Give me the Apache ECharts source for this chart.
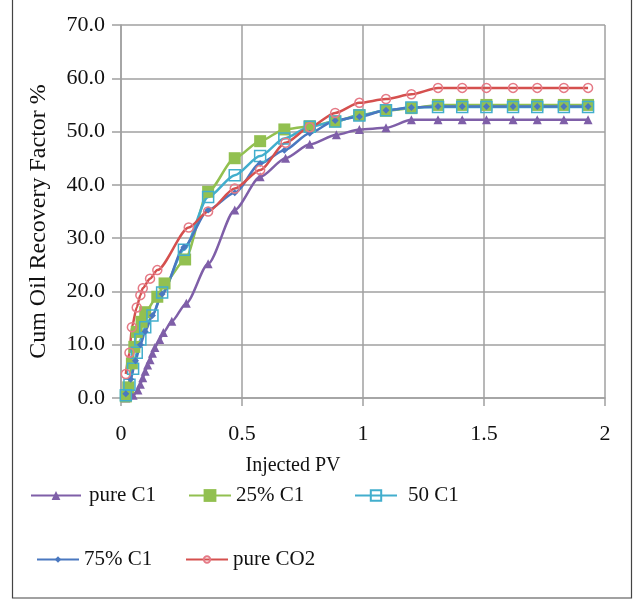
<!DOCTYPE html>
<html>
<head>
<meta charset="utf-8">
<script src="https://cdn.jsdelivr.net/npm/echarts@6/dist/echarts.min.js"></script>
<style>
html,body{margin:0;padding:0;background:#fff;}
#chart{width:643px;height:599px;}
</style>
</head>
<body>
<div id="chart"></div>
<script>
// ---- data (Injected PV vs Cum Oil Recovery Factor %) ----
var seriesNames = ['pure C1', '25% C1', '50 C1', '75% C1', 'pure CO2'];
var xTicks = [0, 0.5, 1, 1.5, 2];
var yTicks = [0, 10, 20, 30, 40, 50, 60, 70];

var pvPureC1  = [0.02,0.05,0.07,0.08,0.09,0.10,0.11,0.12,0.13,0.14,0.16,0.175,0.21,0.27,0.36,0.47,0.575,0.68,0.78,0.89,0.985,1.095,1.2,1.31,1.41,1.51,1.62,1.72,1.83,1.93];
var recPureC1 = [0,0.5,1.5,2.6,3.8,5,6.2,7.2,8.4,9.5,11,12.3,14.4,17.8,25.2,35.3,41.5,45,47.6,49.4,50.4,50.7,52.2,52.2,52.2,52.2,52.2,52.2,52.2,52.2];

var pv25C1  = [0.02,0.03,0.045,0.055,0.065,0.085,0.10,0.15,0.18,0.265,0.36,0.47,0.575,0.675,0.78,0.885,0.985,1.095,1.2,1.31,1.41,1.51,1.62,1.72,1.83,1.93];
var rec25C1 = [0.3,2,6.5,9.6,12.4,14.3,16.1,19,21.5,26,38.7,45,48.2,50.4,51,51.9,53.1,53.9,54.4,55,55,55,55,55,55,55];

var pv50C1  = [0.02,0.035,0.05,0.065,0.08,0.10,0.13,0.17,0.26,0.36,0.47,0.575,0.675,0.78,0.885,0.985,1.095,1.2,1.31,1.41,1.51,1.62,1.72,1.83,1.93];
var rec50C1 = [0.5,2.5,5.5,8.5,11,13.3,15.5,19.8,27.8,37.7,41.8,45.4,48.7,50.9,51.9,53,54,54.5,54.6,54.6,54.6,54.6,54.6,54.6,54.6];

var pv75C1  = [0.02,0.04,0.06,0.08,0.10,0.13,0.17,0.26,0.36,0.47,0.575,0.675,0.78,0.885,0.985,1.095,1.2,1.31,1.41,1.51,1.62,1.72,1.83,1.93];
var rec75C1 = [0.8,3.5,7,10,12.5,15.5,19.5,28.3,35.3,38.5,44,46.5,49.7,52.1,52.8,54,54.5,54.7,54.7,54.7,54.7,54.7,54.7,54.7];

var pvCO2  = [0.02,0.035,0.045,0.065,0.08,0.09,0.12,0.15,0.28,0.36,0.47,0.575,0.68,0.78,0.885,0.985,1.095,1.2,1.31,1.41,1.51,1.62,1.72,1.83,1.93];
var recCO2 = [4.5,8.5,13.3,17,19.3,20.6,22.4,24,32,35,39.3,42.8,47.9,50.8,53.5,55.4,56.1,57,58.2,58.2,58.2,58.2,58.2,58.2,58.2];

function pairs(xs, ys){ return xs.map(function(x,i){ return [x, ys[i]]; }); }

var FONT = 'Liberation Serif';
var chart = echarts.init(document.getElementById('chart'), null, {renderer:'canvas'});

function mk(name, xs, ys, color, symbol, size, hollow, borderColor){
  return {
    name: name, type: 'line', data: pairs(xs, ys),
    smooth: 0.25, smoothMonotone: 'x',
    symbol: symbol, symbolSize: size, showSymbol: true,
    lineStyle: {color: color, width: 2.5},
    itemStyle: hollow ? {color: 'rgba(255,255,255,0)', borderColor: borderColor || color, borderWidth: 1.5}
                      : {color: color, borderColor: color, borderWidth: 0},
    emphasis: {disabled: true},
    animation: false
  };
}

var legendText = {fontFamily: FONT, fontSize: 21, color: '#111'};
function lg(name, left, top, ih, extra){
  return Object.assign({
    data: [name], left: left, top: top,
    itemWidth: 42, itemHeight: ih, itemGap: 4,
    textStyle: legendText, selectedMode: false
  }, extra || {});
}

var option = {
  backgroundColor: '#fff',
  animation: false,
  grid: {left: 121, right: 38, top: 25, bottom: 201, containLabel: false},
  xAxis: {
    type: 'value', min: 0, max: 2, interval: 0.5,
    name: 'Injected PV', nameLocation: 'middle', nameGap: 58,
    nameTextStyle: {fontFamily: FONT, fontSize: 20, color: '#111', padding: [0, 140, 0, 0]},
    axisLine: {show: true, lineStyle: {color: '#a0a0a0', width: 1.5}},
    axisTick: {show: true, length: 8, lineStyle: {color: '#a0a0a0', width: 1.5}},
    axisLabel: {fontFamily: FONT, fontSize: 22, color: '#111', margin: 25,
      formatter: function(v){ return String(v); }},
    splitLine: {show: true, lineStyle: {color: '#a0a0a0', width: 1.5}}
  },
  yAxis: {
    type: 'value', min: 0, max: 70, interval: 10,
    name: 'Cum Oil Recovery Factor %', nameLocation: 'middle', nameGap: 70,
    nameTextStyle: {fontFamily: FONT, fontSize: 24, color: '#111', padding: [0, 20, 0, 0]},
    axisLine: {show: true, lineStyle: {color: '#a0a0a0', width: 1.5}},
    axisTick: {show: true, length: 9, lineStyle: {color: '#a0a0a0', width: 1.5}},
    axisLabel: {fontFamily: FONT, fontSize: 22, color: '#111', margin: 16,
      formatter: function(v){ return v.toFixed(1); }},
    splitLine: {show: true, lineStyle: {color: '#a0a0a0', width: 1.5}}
  },
  legend: [
    lg(seriesNames[0], 25, 480, 11, {itemWidth: 50, textStyle: Object.assign({}, legendText, {padding: [0,0,0,3]})}),
    lg(seriesNames[1], 183, 480, 16),
    lg(seriesNames[2], 349, 480, 13, {textStyle: Object.assign({}, legendText, {padding: [0,0,0,6]})}),
    lg(seriesNames[3], 31, 544, 8),
    lg(seriesNames[4], 180, 544, 8, {itemGap: 0})
  ],
  graphic: [{
    type: 'rect', silent: true, z: -1,
    shape: {x: 12.5, y: -2, width: 619, height: 600},
    style: {fill: 'none', stroke: '#444', lineWidth: 1.2}
  }],
  series: [
    mk(seriesNames[0], pvPureC1, recPureC1, '#7f5fa8', 'triangle', 9, false),
    mk(seriesNames[1], pv25C1, rec25C1, '#92c050', 'rect', 12, false),
    mk(seriesNames[2], pv50C1, rec50C1, '#42aecd', 'rect', 11, true),
    mk(seriesNames[3], pv75C1, rec75C1, '#4a78c0', 'diamond', 7, false),
    mk(seriesNames[4], pvCO2, recCO2, '#d5504e', 'circle', 9, true, '#e57a86')
  ]
};
chart.setOption(option);
</script>
</body>
</html>
